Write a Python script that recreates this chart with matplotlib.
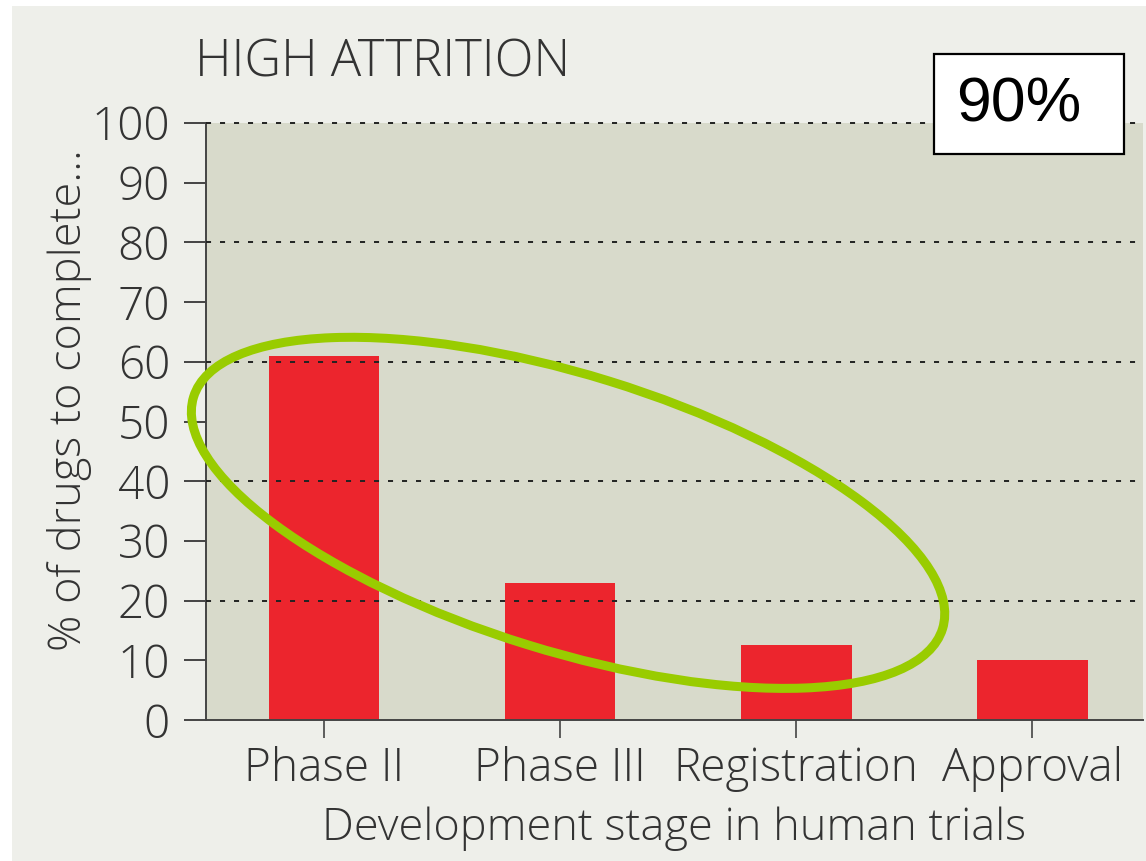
import matplotlib.pyplot as plt
from matplotlib.patches import Ellipse, Rectangle
from matplotlib.transforms import Affine2D

# data
stages = ["Phase II", "Phase III", "Registration", "Approval"]
pct_complete = [61, 23, 12.5, 10]
y_ticks = list(range(0, 101, 10))
grid_levels = [20, 40, 60, 80, 100]
callout = "90%"

FIG_BG = "#eeefea"
AX_BG = "#d8dacb"
RED = "#ec252d"
GREEN = "#99cc00"
INK = "#333333"

plt.rcParams['font.family'] = ['Open Sans', 'DejaVu Sans']
plt.rcParams['font.weight'] = 'light'
plt.rcParams['axes.labelweight'] = 'light'

W, H = 1146, 861
fig = plt.figure(figsize=(W / 100, H / 100), dpi=100, facecolor="white")
# light panel with thin white margin on the top/left
fig.patches.append(Rectangle((12 / W, 0), 1, 1 - 6 / H, transform=fig.transFigure,
                             facecolor=FIG_BG, edgecolor="none", zorder=-10))

ax = fig.add_axes([206 / W, (H - 720) / H, (1143 - 206) / W, 597 / H])
ax.set_facecolor(AX_BG)

x = list(range(len(stages)))
ax.bar(x, pct_complete, width=0.47, color=RED, zorder=2)

for lvl in grid_levels:
    ax.axhline(lvl, color="#222222", lw=1.4, ls=(0, (2.6, 4.6)), zorder=3, clip_on=False)

ax.set_xlim(-0.5, 3.47)
ax.set_ylim(0, 100)
ax.set_yticks(y_ticks)
ax.set_xticks(x)
ax.set_xticklabels(stages)

for side in ("top", "right"):
    ax.spines[side].set_visible(False)
for side in ("left", "bottom"):
    ax.spines[side].set_color("#444444")
    ax.spines[side].set_linewidth(1.4)

ax.tick_params(axis="y", length=16, width=1.4, color="#444444", pad=10,
               labelsize=33, labelcolor=INK)
ax.tick_params(axis="x", length=13, width=1.2, color="#444444", pad=6,
               labelsize=33, labelcolor=INK)

ax.set_xlabel("Development stage in human trials", fontsize=32.5, color=INK, labelpad=10)
ax.set_ylabel("% of drugs to complete...", fontsize=32.5, color=INK)
ax.yaxis.set_label_coords(-0.122, 0.536)

# green ellipse highlighting the decline (sized in pixels, placed in data units)
px_x = ax.bbox.width / (ax.get_xlim()[1] - ax.get_xlim()[0])
px_y = ax.bbox.height / (ax.get_ylim()[1] - ax.get_ylim()[0])
ring = Ellipse((0, 0), 2 * 392, 2 * 138, angle=-17.2, fill=False,
               edgecolor=GREEN, lw=6.5, zorder=4, clip_on=False,
               transform=Affine2D().scale(1 / px_x, 1 / px_y).translate(1.034, 34.7) + ax.transData)
ax.add_patch(ring)

fig.text(195 / W, 1 - 63 / H, "HIGH ATTRITION", fontsize=36.5, color=INK,
         ha="left", va="center")

# boxed callout, top right
fig.patches.append(Rectangle((934 / W, 1 - 154 / H), 190 / W, 100 / H,
                             transform=fig.transFigure, facecolor="white",
                             edgecolor="black", lw=1.6, zorder=5))
fig.text(956 / W, 1 - 105 / H, callout, fontsize=45, color="black",
         family="Liberation Sans", weight="normal", ha="left", va="center", zorder=6)

fig.savefig("out.png", dpi=100, facecolor=fig.get_facecolor())
